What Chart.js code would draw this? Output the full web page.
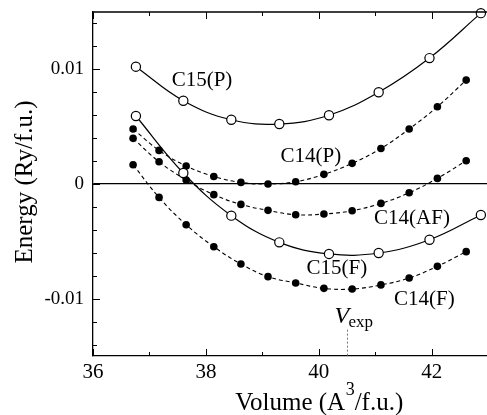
<!DOCTYPE html>
<html>
<head>
<meta charset="utf-8">
<script src="https://cdn.jsdelivr.net/npm/chart.js@4/dist/chart.umd.min.js"></script>
<style>
  html, body { margin: 0; padding: 0; background: #fff; overflow: hidden; }
  #wrap { width: 494px; height: 415px; }
</style>
</head>
<body>
<div id="wrap"><canvas id="energyChart" width="494" height="415"></canvas></div>
<script>
// volumes (A^3/f.u.) and energies (Ry/f.u.)
const c15Volumes = [36.76, 37.6, 38.45, 39.3, 40.18, 41.06, 41.96, 42.87];
const c15P = [0.01023, 0.00726, 0.0056, 0.00523, 0.0060, 0.0080, 0.01098, 0.0149];
const c15F = [0.00593, 0.00096, -0.00276, -0.00509, -0.0061, -0.00602, -0.00486, -0.0027];

const c14Volumes = [36.71, 37.17, 37.65, 38.14, 38.62, 39.1, 39.59, 40.09, 40.59, 41.1, 41.6, 42.1, 42.61];
const c14P = [0.0048, 0.00293, 0.00157, 0.00066, 0.00014, 0.0, 0.0002, 0.00084, 0.0018, 0.0031, 0.0048, 0.00674, 0.00906];
const c14AF = [0.00398, 0.00194, 0.00035, -0.00093, -0.00178, -0.0023, -0.00268, -0.00262, -0.00233, -0.00169, -0.00076, 0.00049, 0.00203];
const c14F = [0.00168, -0.00117, -0.00355, -0.00547, -0.00698, -0.00808, -0.00863, -0.0091, -0.00916, -0.0088, -0.0082, -0.00718, -0.0059];

const vExp = 40.5;

const xTickLabels = [36, 38, 40, 42];
const yTickLabels = [-0.01, 0, 0.01];

const SERIF = "'Liberation Serif', 'Times New Roman', serif";

function pts(xs, ys) {
    return xs.map((x, i) => ({ x: x, y: ys[i] }));
}

function openSeries(label, ys) {
    return {
        label: label,
        data: pts(c15Volumes, ys),
        borderColor: '#000',
        borderWidth: 1.2,
        tension: 0.4,
        pointRadius: 4.6,
        pointBorderWidth: 1.2,
        pointBackgroundColor: '#fff',
        pointBorderColor: '#000',
        clip: false
    };
}

function filledSeries(label, ys) {
    return {
        label: label,
        data: pts(c14Volumes, ys),
        borderColor: '#000',
        borderWidth: 1.1,
        borderDash: [4, 3],
        tension: 0.4,
        pointRadius: 3.8,
        pointBorderWidth: 0,
        pointBackgroundColor: '#000',
        pointBorderColor: '#000',
        clip: false
    };
}

function isLabelled(v, list) {
    return list.some(t => Math.abs(t - v) < 1e-9);
}

// curve names, placed in data coordinates
const curveLabels = [
    { text: 'C15(P)', x: 37.93, y: 0.0090 },
    { text: 'C14(P)', x: 39.86, y: 0.0024 },
    { text: 'C14(AF)', x: 41.65, y: -0.0030 },
    { text: 'C15(F)', x: 40.32, y: -0.0074 },
    { text: 'C14(F)', x: 41.87, y: -0.0101 }
];

// frame, inward tick marks, curve names and axis titles
const decorations = {
    id: 'decorations',
    afterDraw(chart) {
        const ctx = chart.ctx;
        const a = chart.chartArea;
        const xs = chart.scales.x, ys = chart.scales.y;
        ctx.save();
        ctx.strokeStyle = '#000';
        ctx.lineWidth = 1.3;
        ctx.beginPath();
        ctx.moveTo(a.left, a.top);
        ctx.lineTo(a.right, a.top);
        ctx.lineTo(a.right, a.bottom);
        ctx.stroke();

        ctx.lineWidth = 1;
        ctx.beginPath();
        xs.ticks.forEach(t => {
            const px = Math.round(xs.getPixelForValue(t.value)) + 0.5;
            const len = isLabelled(t.value, xTickLabels) ? 7 : 4;
            ctx.moveTo(px, a.bottom);
            ctx.lineTo(px, a.bottom - len);
            ctx.moveTo(px, a.top);
            ctx.lineTo(px, a.top + len);
        });
        ys.ticks.forEach(t => {
            const py = Math.round(ys.getPixelForValue(t.value)) + 0.5;
            const len = isLabelled(t.value, yTickLabels) ? 7 : 4;
            ctx.moveTo(a.left, py);
            ctx.lineTo(a.left + len, py);
        });
        ctx.stroke();

        // experimental volume marker
        const vx = Math.round(xs.getPixelForValue(vExp)) + 0.5;
        ctx.strokeStyle = '#777';
        ctx.lineWidth = 1;
        ctx.setLineDash([2, 2]);
        ctx.beginPath();
        ctx.moveTo(vx, ys.getPixelForValue(-0.0127));
        ctx.lineTo(vx, a.bottom);
        ctx.stroke();
        ctx.setLineDash([]);

        ctx.fillStyle = '#000';
        ctx.textAlign = 'left';
        ctx.textBaseline = 'alphabetic';
        ctx.font = 'italic 24px ' + SERIF;
        ctx.fillText('V', vx - 13, ys.getPixelForValue(-0.0121));
        ctx.font = '17px ' + SERIF;
        ctx.fillText('exp', vx + 1, ys.getPixelForValue(-0.0125));

        ctx.font = '21px ' + SERIF;
        ctx.textAlign = 'center';
        ctx.textBaseline = 'middle';
        curveLabels.forEach(l => {
            ctx.fillText(l.text, xs.getPixelForValue(l.x), ys.getPixelForValue(l.y));
        });

        // x title with raised exponent
        ctx.textAlign = 'left';
        ctx.textBaseline = 'alphabetic';
        const big = '25px ' + SERIF, small = '18px ' + SERIF;
        const p1 = 'Volume (A', p2 = '3', p3 = '/f.u.)';
        ctx.font = big;
        const w1 = ctx.measureText(p1).width, w3 = ctx.measureText(p3).width;
        ctx.font = small;
        const w2 = ctx.measureText(p2).width;
        let tx = 319 - (w1 + w2 + w3) / 2;
        const base = 410;
        ctx.font = big;
        ctx.fillText(p1, tx, base);
        tx += w1 + 0.5;
        ctx.font = small;
        ctx.fillText(p2, tx, base - 15);
        tx += w2;
        ctx.font = big;
        ctx.fillText(p3, tx, base);

        // y title
        ctx.translate(25, 182);
        ctx.rotate(-Math.PI / 2);
        ctx.textAlign = 'center';
        ctx.textBaseline = 'middle';
        ctx.font = big;
        ctx.fillText('Energy (Ry/f.u.)', 0, 0);
        ctx.restore();
    }
};

new Chart(document.getElementById('energyChart'), {
    type: 'line',
    data: {
        datasets: [
            openSeries('C15(P)', c15P),
            openSeries('C15(F)', c15F),
            filledSeries('C14(P)', c14P),
            filledSeries('C14(AF)', c14AF),
            filledSeries('C14(F)', c14F)
        ]
    },
    options: {
        responsive: false,
        animation: false,
        devicePixelRatio: 1,
        layout: { padding: { top: 12, left: 0, right: 0, bottom: 0 } },
        plugins: {
            legend: { display: false },
            tooltip: { enabled: false }
        },
        scales: {
            x: {
                type: 'linear',
                min: 36,
                max: 43,
                afterFit: s => {
                    s.height = 59;
                    s.paddingLeft = 0;
                    s.paddingRight = 0;
                },
                border: { display: true, color: '#000', width: 1.3 },
                grid: { display: false, drawTicks: false },
                ticks: {
                    stepSize: 1,
                    autoSkip: false,
                    padding: 4,
                    color: '#000',
                    font: { family: SERIF, size: 21 },
                    maxRotation: 0,
                    callback: v => isLabelled(v, xTickLabels) ? String(v) : ''
                }
            },
            y: {
                min: -0.015,
                max: 0.015,
                afterFit: s => {
                    s.width = 93;
                    s.paddingTop = 0;
                    s.paddingBottom = 0;
                },
                afterBuildTicks: s => {
                    const ticks = [];
                    for (let k = -14; k <= 14; k += 2) ticks.push({ value: k / 1000 });
                    s.ticks = ticks;
                },
                border: { display: true, color: '#000', width: 1.3 },
                grid: {
                    drawTicks: false,
                    lineWidth: 1.3,
                    // only the zero level is drawn across the plot
                    color: c => (c.tick && Math.abs(c.tick.value) < 1e-9) ? '#000' : 'rgba(0,0,0,0)'
                },
                ticks: {
                    autoSkip: false,
                    padding: 9,
                    color: '#000',
                    font: { family: SERIF, size: 19 },
                    callback: v => {
                        if (!isLabelled(v, yTickLabels)) return '';
                        return Math.abs(v) < 1e-9 ? '0' : v.toFixed(2);
                    }
                }
            }
        }
    },
    plugins: [decorations]
});
</script>
</body>
</html>
